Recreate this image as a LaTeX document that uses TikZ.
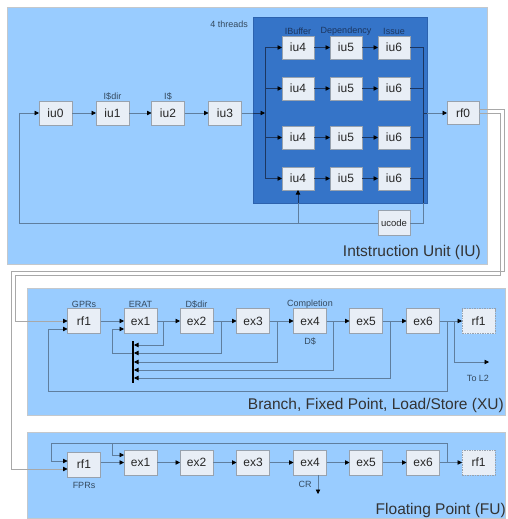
\documentclass[tikz,border=0pt]{standalone}
\usepackage{fontspec}
\setmainfont{Liberation Sans}
\usetikzlibrary{arrows.meta}
\definecolor{lightbg}{HTML}{99CCFF}
\definecolor{darkbg}{HTML}{3574C8}
\definecolor{darkedge}{HTML}{2C62AE}
\definecolor{boxfill}{HTML}{E8EEF6}
\definecolor{boxline}{HTML}{98A2AE}
\definecolor{wirecol}{HTML}{5F7E9E}
\definecolor{darkwirecol}{HTML}{1C3660}
\definecolor{xwirecol}{HTML}{A8A8A8}
\definecolor{lblcol}{HTML}{34495E}
\definecolor{framecol}{HTML}{C4C8CC}
\tikzset{
  stage/.style={draw=boxline, fill=boxfill, minimum width=33pt, minimum height=24pt,
    inner sep=0pt, outer sep=0pt, font=\fontsize{12}{12}\selectfont, text=black!85},
  tstage/.style={stage, minimum width=32pt, minimum height=23pt},
  ghost/.style={stage, dash pattern=on 1.5pt off 1pt},
  tag/.style={font=\fontsize{9}{9}\selectfont, text=lblcol, inner sep=0pt},
  unitlabel/.style={font=\fontsize{15.5}{15.5}\selectfont, text=black!80, inner sep=0pt},
  unitbox/.style={draw=framecol, fill=lightbg, line width=0.8pt, inner sep=0pt, outer sep=0pt, anchor=north west},
  wire/.style={draw=wirecol, line width=0.8pt},
  dwire/.style={draw=darkwirecol, line width=0.8pt},
  xwire/.style={draw=xwirecol, line width=0.8pt},
  ar/.style={-{Triangle[length=4.5pt,width=4.5pt,color=black]}},
}
\begin{document}
\begin{tikzpicture}[x=1pt,y=-1pt]
\useasboundingbox (0,0) rectangle (507,519);
\fill[white] (0,0) rectangle (507,519);

% unit boxes
\node[unitbox, minimum width=480pt, minimum height=257pt] (IU) at (7,7) {};
\node[unitbox, minimum width=478pt, minimum height=127pt] (XU) at (27,288) {};
\node[unitbox, minimum width=478pt, minimum height=86pt] (FU) at (27,432) {};
\node[draw=darkedge, fill=darkbg, minimum width=174pt, minimum height=186pt, inner sep=0pt, outer sep=0pt, anchor=north west] (TH) at (253,17) {};

\node[unitlabel, anchor=base east] (lIU) at (481,256) {Intstruction Unit (IU)};
\node[unitlabel, anchor=base east] (lXU) at (504,409) {Branch, Fixed Point, Load/Store (XU)};
\node[unitlabel, anchor=base east] (lFU) at (506,514) {Floating Point (FU)};

% ---------------- IU ----------------
\node[stage] (iu0) at (55.5,113) {iu0};
\node[stage] (iu1) at (112.5,113) {iu1};
\node[stage] (iu2) at (168,113) {iu2};
\node[stage] (iu3) at (225,113) {iu3};
\node[tag] (tidir) at (112.5,96) {I\$dir};
\node[tag] (tic) at (168,96) {I\$};
\node[tag, anchor=east] (tthr) at (248,24) {4 threads};
\node[tag, text=darkwirecol] (tib) at (298,31) {IBuffer};
\node[tag, text=darkwirecol] (tdep) at (346,31) {Dependency};
\node[tag, text=darkwirecol] (tiss) at (394,31) {Issue};

\foreach \r/\y in {1/47.5,2/88.5,3/137.5,4/178.5}{
  \node[tstage] (a\r) at (298,\y) {iu4};
  \node[tstage] (b\r) at (346,\y) {iu5};
  \node[tstage] (c\r) at (394,\y) {iu6};
  \draw[dwire, ar] (a\r) -- (b\r);
  \draw[dwire, ar] (b\r) -- (c\r);
  \draw[dwire, ar] (265,\y) -- (a\r.west);
  \draw[dwire] (c\r.east) -- (423,\y);
}
\node[tstage, minimum height=25pt, font=\fontsize{9.5}{9.5}\selectfont] (ucode) at (394,223) {ucode};
\node[tstage] (rf0) at (463,113) {rf0};

\draw[wire, ar] (iu0) -- (iu1);
\draw[wire, ar] (iu1) -- (iu2);
\draw[wire, ar] (iu2) -- (iu3);
\coordinate (thin) at (253,113);
\coordinate (busin) at (265,113);
\draw[wire] (iu3.east) -- (thin);
\draw[dwire, ar] (thin) -- (busin);
\draw[dwire] (265,47.5) -- (265,178.5);
\draw[dwire] (423,47.5) -- (423,203);
\draw[wire] (423,203) -- (423,223) -- (ucode.east);
\draw[dwire] (423,113) -- (427,113);
\draw[wire, ar] (427,113) -- (rf0.west);
\draw[wire, ar] (ucode.west) -- (19,223) -- (19,113) -- (iu0.west);
\draw[wire] (298,223) -- (298,203);
\draw[dwire, ar] (298,203) -- (a4.south);

% ---------------- XU ----------------
\node[stage, minimum height=25pt] (xr1) at (84,321) {rf1};
\node[stage, minimum height=25pt] (x1) at (140.5,321) {ex1};
\node[stage, minimum height=25pt] (x2) at (196.5,321) {ex2};
\node[stage, minimum height=25pt] (x3) at (253,321) {ex3};
\node[stage, minimum height=25pt] (x4) at (310,321) {ex4};
\node[stage, minimum height=25pt] (x5) at (366,321) {ex5};
\node[stage, minimum height=25pt] (x6) at (423,321) {ex6};
\node[ghost, minimum height=25pt] (xg) at (478.5,321) {rf1};
\node[tag] (tgpr) at (84,304) {GPRs};
\node[tag] (terat) at (140.5,304) {ERAT};
\node[tag] (tdd) at (196.5,304) {D\$dir};
\node[tag] (tcomp) at (310,304) {Completion};
\node[tag] (tdc) at (310,341) {D\$};
\node[tag] (tl2) at (478,378) {To L2};

\draw[wire, ar] (xr1) -- (x1);
\draw[wire, ar] (x1) -- (x2);
\draw[wire, ar] (x2) -- (x3);
\draw[wire, ar] (x3) -- (x4);
\draw[wire, ar] (x4) -- (x5);
\draw[wire, ar] (x5) -- (x6);
\draw[wire, ar] (x6) -- (xg);

\draw[wire, ar] (163,321) -- (163,345) -- (134,345);
\draw[wire, ar] (221,321) -- (221,353) -- (134,353);
\draw[wire, ar] (277,321) -- (277,362) -- (134,362);
\draw[wire, ar] (333,321) -- (333,370) -- (134,370);
\draw[wire, ar] (390,321) -- (390,378) -- (134,378);
\draw[wire, ar] (133,353) -- (112,353) -- (112,329) -- ([yshift=-8pt]x1.west);
\draw[wire, ar] (447,321) -- (447,391) -- (48,391) -- (48,329) -- ([yshift=-8pt]xr1.west);
\draw[wire, ar] (454,321) -- (454,362) -- (489,362);
\coordinate (barT) at (133,341);
\coordinate (barB) at (133,383);
\draw[black, line width=1.6pt] (barT) -- (barB);

% ---------------- FU ----------------
\node[stage, minimum height=25pt] (fr1) at (84,464.5) {rf1};
\node[stage, minimum height=25pt] (f1) at (140.5,462.5) {ex1};
\node[stage, minimum height=25pt] (f2) at (196.5,462.5) {ex2};
\node[stage, minimum height=25pt] (f3) at (253,462.5) {ex3};
\node[stage, minimum height=25pt] (f4) at (310,462.5) {ex4};
\node[stage, minimum height=25pt] (f5) at (366,462.5) {ex5};
\node[stage, minimum height=25pt] (f6) at (423,462.5) {ex6};
\node[ghost, minimum height=25pt] (fg) at (478.5,462.5) {rf1};
\node[tag] (tfpr) at (84,485) {FPRs};
\node[tag] (tcr) at (305,484) {CR};

\draw[wire, ar] (fr1.east |- f1.west) -- (f1.west);
\draw[wire, ar] (f1) -- (f2);
\draw[wire, ar] (f2) -- (f3);
\draw[wire, ar] (f3) -- (f4);
\draw[wire, ar] (f4) -- (f5);
\draw[wire, ar] (f5) -- (f6);
\draw[wire, ar] (f6) -- (fg);
\draw[wire, ar] (447,462.5) -- (447,443) -- (51,443) -- (51,461) -- ([yshift=3.5pt]fr1.west);
\draw[wire, ar] (112,443) -- (112,455) -- ([yshift=7.5pt]f1.west);
\coordinate (crend) at (318,494);
\draw[wire, ar] (crend |- f4.south) -- (crend);

% ---------------- IU to XU / FU ----------------
\draw[xwire, ar] ([yshift=4pt]rf0.east) -- (504,109) -- (504,271) -- (11,271) -- (11,469) -- ([yshift=-4.5pt]fr1.west);
\draw[xwire, ar] (rf0.east) -- (500,113) -- (500,275) -- (15,275) -- (15,321) -- (xr1.west);
\end{tikzpicture}
\end{document}
